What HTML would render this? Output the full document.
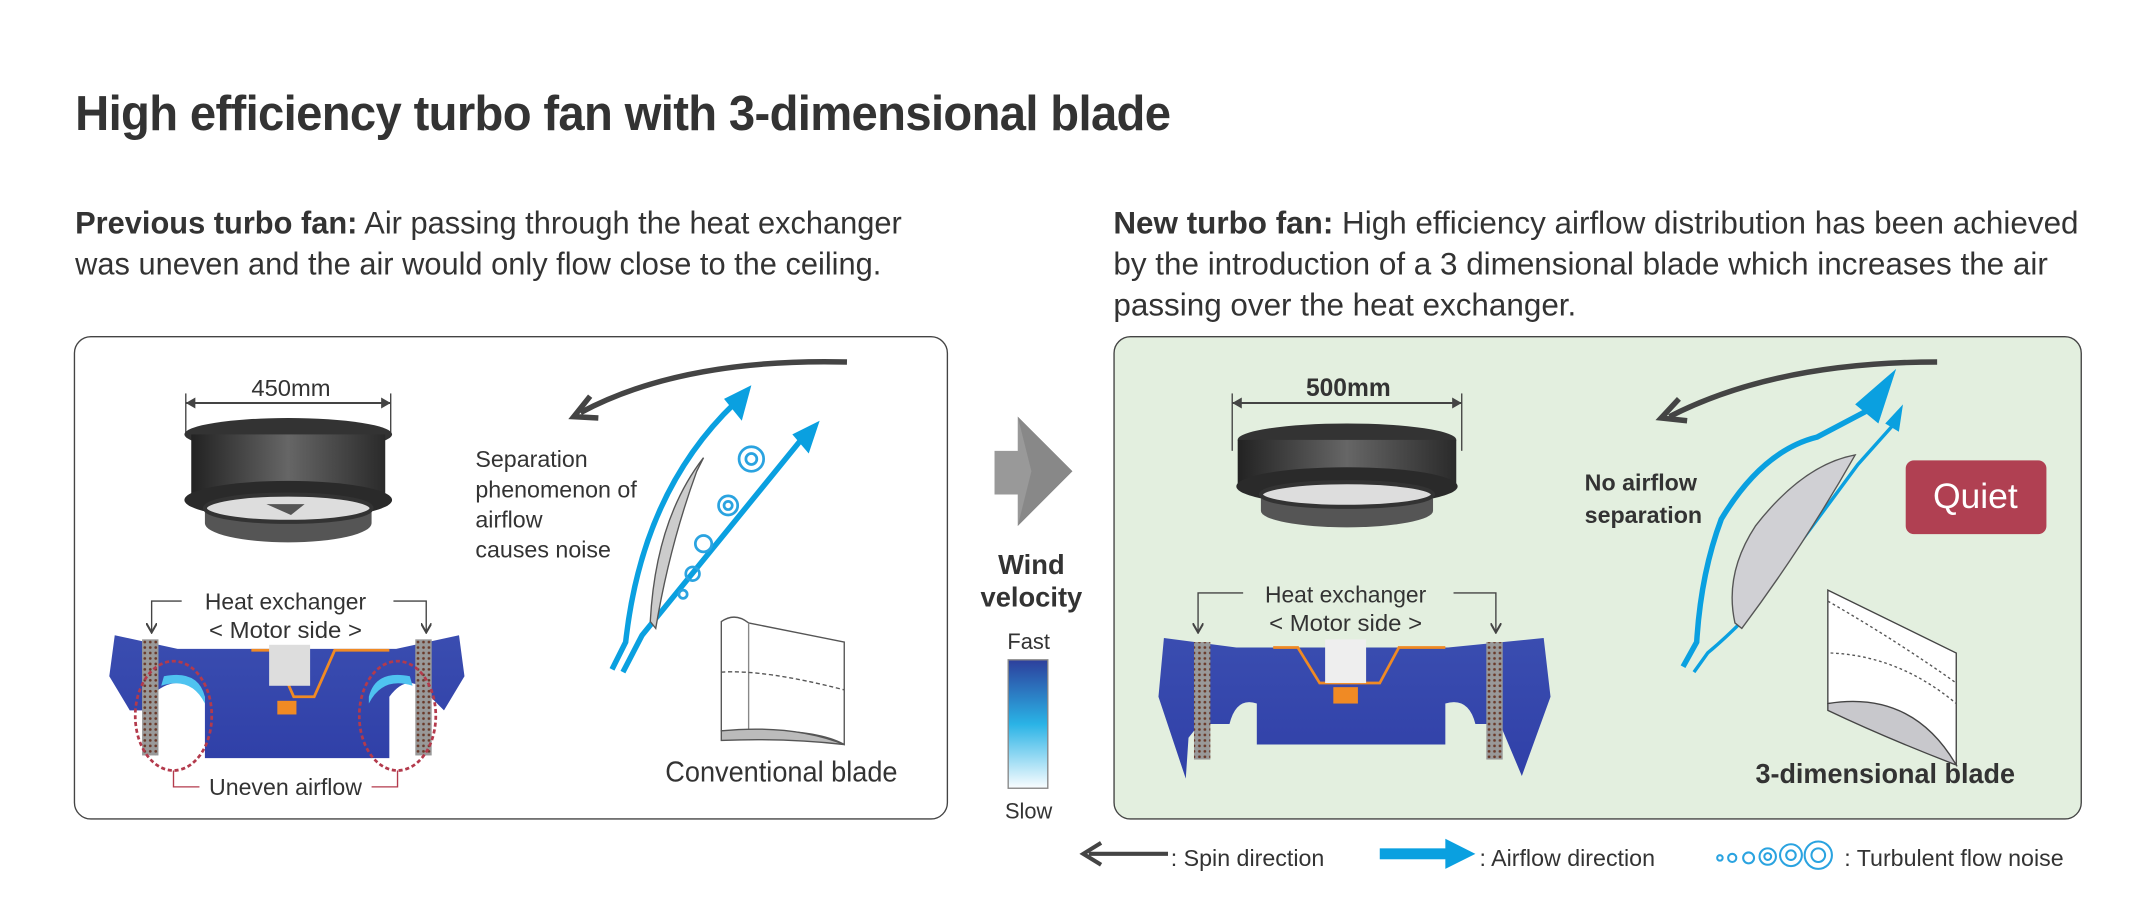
<!DOCTYPE html>
<html><head><meta charset="utf-8"><style>
html,body{margin:0;padding:0;background:#fff;}
#w{width:2142px;height:906px;overflow:hidden;position:relative;}
#s{position:absolute;left:0;top:0;width:1568px;height:663px;transform:scale(1.3661);transform-origin:0 0;font-family:"Liberation Sans",sans-serif;color:#333;}
.t{position:absolute;white-space:nowrap;transform-origin:0 0;}
</style></head><body><div id="w"><div id="s">
<div class="t" style="left:55px;top:62px;font-size:36px;font-weight:bold;color:#333;letter-spacing:-0.5px;transform:scaleX(0.96)">High efficiency turbo fan with 3-dimensional blade</div>
<div class="t" style="left:55px;top:148px;font-size:23px;line-height:30px;color:#333;transform:scaleX(0.98)">
<b>Previous turbo fan:</b> Air passing through the heat exchanger<br>was uneven and the air would only flow close to the ceiling.</div>
<div class="t" style="left:815px;top:148px;font-size:23px;line-height:30px;color:#333">
<b>New turbo fan:</b> High efficiency airflow distribution has been achieved<br>by the introduction of a 3 dimensional blade which increases the air<br>passing over the heat exchanger.</div>

<svg width="1568" height="663" style="position:absolute;left:0;top:0" font-family="Liberation Sans, sans-serif">
<defs>
<linearGradient id="vel" x1="0" y1="0" x2="0" y2="1"><stop offset="0" stop-color="#2d3f9c"/><stop offset="0.5" stop-color="#2ab3e6"/><stop offset="1" stop-color="#fafdff"/></linearGradient>
<linearGradient id="fan" x1="0" y1="0" x2="1" y2="0"><stop offset="0" stop-color="#222"/><stop offset="0.5" stop-color="#666"/><stop offset="1" stop-color="#2a2a2a"/></linearGradient>
<linearGradient id="hx" x1="0" y1="0" x2="0" y2="1"><stop offset="0" stop-color="#3a4db0"/><stop offset="1" stop-color="#3040a8"/></linearGradient>
<pattern id="dots" width="4" height="4" patternUnits="userSpaceOnUse"><rect width="4" height="4" fill="#999"/><circle cx="2" cy="2" r="1" fill="#6a3a2a"/></pattern>
<marker id="ah" markerWidth="8" markerHeight="8" refX="6" refY="4" orient="auto"><path d="M0,0 L7,4 L0,8" fill="none" stroke="#444" stroke-width="1.5"/></marker>
</defs>
<rect x="54.5" y="246.5" width="639" height="353" rx="12" fill="#fff" stroke="#444"/>
<rect x="815.5" y="246.5" width="708" height="353" rx="12" fill="#e3efdf" stroke="#444"/>

<!-- LEFT fan -->
<line x1="136" y1="295" x2="286" y2="295" stroke="#444" stroke-width="1.5"/>
<line x1="136" y1="288" x2="136" y2="318" stroke="#444"/><line x1="286" y1="288" x2="286" y2="318" stroke="#444"/>
<path d="M136,295 l7,-4 v8z M286,295 l-7,-4 v8z" fill="#444"/>
<text x="213" y="290" font-size="17" text-anchor="middle" fill="#333" textLength="58" lengthAdjust="spacingAndGlyphs">450mm</text>
<ellipse cx="211" cy="318" rx="76" ry="12" fill="#333"/>
<rect x="140" y="318" width="142" height="48" fill="url(#fan)"/>
<ellipse cx="211" cy="366" rx="76" ry="14" fill="#2a2a2a"/>
<path d="M150,370 L150,383 A61,14 0 0 0 272,383 L272,370 Z" fill="#555"/>
<ellipse cx="211" cy="372" rx="61" ry="10" fill="#ddd" stroke="#333" stroke-width="3"/>
<path d="M195,369 l18,8 l10,-8z" fill="#555"/>

<!-- LEFT heat exchanger -->
<text x="209" y="446" font-size="17" text-anchor="middle" fill="#333" textLength="118" lengthAdjust="spacingAndGlyphs">Heat exchanger</text>
<text x="209" y="467" font-size="17" text-anchor="middle" fill="#333" textLength="112" lengthAdjust="spacingAndGlyphs">&lt; Motor side &gt;</text>
<path d="M133,440 H111 V462" fill="none" stroke="#444" marker-end="url(#ah)"/>
<path d="M288,440 H312 V462" fill="none" stroke="#444" marker-end="url(#ah)"/>
<path d="M84,465 L80,495 L95,520 L110,520 L110,510 Q130,490 150,510 L150,555 L285,555 L285,510 Q300,490 315,510 L325,520 L340,495 L336,465 L290,475 L130,475 Z" fill="url(#hx)"/>
<path d="M150,510 Q145,490 120,495 L118,502 Q140,495 150,515Z M270,510 Q275,490 300,495 L302,502 Q280,495 270,515Z" fill="#4fc3f0"/>
<path d="M184,476 H200 L215,510 H230 L245,476 H285" fill="none" stroke="#f08a24" stroke-width="2"/>
<rect x="197" y="472" width="30" height="30" fill="#ddd"/>
<rect x="203" y="513" width="14" height="10" fill="#f08a24"/>
<rect x="104" y="468" width="12" height="85" fill="url(#dots)"/>
<rect x="304" y="468" width="12" height="85" fill="url(#dots)"/>
<ellipse cx="127" cy="524" rx="28" ry="40" fill="none" stroke="#b33a4c" stroke-width="2" stroke-dasharray="3,2"/>
<ellipse cx="291" cy="524" rx="28" ry="40" fill="none" stroke="#b33a4c" stroke-width="2" stroke-dasharray="3,2"/>
<path d="M127,564 V576 H146 M291,564 V576 H272" fill="none" stroke="#b33a4c"/>
<text x="209" y="582" font-size="17" text-anchor="middle" fill="#333" textLength="112" lengthAdjust="spacingAndGlyphs">Uneven airflow</text>

<!-- LEFT text + blade -->
<text font-size="17" fill="#333"><tspan x="348" y="342">Separation</tspan><tspan x="348" y="364">phenomenon of</tspan><tspan x="348" y="386">airflow</tspan><tspan x="348" y="408">causes noise</tspan></text>
<path d="M620,265 Q500,262 425,302" fill="none" stroke="#444" stroke-width="4"/>
<path d="M432,290 L420,305 L438,306" fill="none" stroke="#444" stroke-width="4"/>
<path d="M448,490 L458,470 Q470,360 538,295" fill="none" stroke="#0aa0e0" stroke-width="4"/>
<path d="M530,292 L550,282 L543,308z" fill="#0aa0e0"/>
<path d="M456,492 L470,465 L588,320" fill="none" stroke="#0aa0e0" stroke-width="4"/>
<path d="M580,318 L600,308 L592,332z" fill="#0aa0e0"/>
<path d="M476,455 Q480,380 515,335 L510,345 Q490,400 480,460Z" fill="#ccc" stroke="#555"/>
<g fill="none" stroke="#2aa3e0" stroke-width="2">
<circle cx="550" cy="336" r="9"/><circle cx="550" cy="336" r="4"/>
<circle cx="533" cy="370" r="7"/><circle cx="533" cy="370" r="3"/>
<circle cx="515" cy="398" r="6"/><circle cx="507" cy="420" r="5"/><circle cx="500" cy="435" r="3"/></g>
<path d="M528,455 Q538,448 548,456 L618,470 L618,545 Q600,535 560,535 L528,535 Z" fill="#fff" stroke="#555"/>
<line x1="548" y1="456" x2="548" y2="535" stroke="#888"/>
<path d="M528,535 Q580,530 618,545 Q575,540 528,542Z" fill="#bbb" stroke="#555"/>
<path d="M528,492 Q560,490 618,505" fill="none" stroke="#555" stroke-dasharray="3,2"/>
<text x="572" y="572" font-size="21" text-anchor="middle" fill="#333" textLength="170" lengthAdjust="spacingAndGlyphs">Conventional blade</text>

<!-- Chevron -->
<path d="M745,305 L785,345 L745,385 L745,362 L728,362 L728,330 L745,330Z" fill="#999"/>
<path d="M745,305 L785,345 L745,385 L755,345Z" fill="#888"/>
<text x="755" y="420" font-size="20" font-weight="bold" text-anchor="middle" fill="#333">Wind</text>
<text x="755" y="444" font-size="20" font-weight="bold" text-anchor="middle" fill="#333">velocity</text>
<text x="753" y="475" font-size="16" text-anchor="middle" fill="#333">Fast</text>
<rect x="738" y="483" width="29" height="94" fill="url(#vel)" stroke="#888"/>
<text x="753" y="599" font-size="16" text-anchor="middle" fill="#333">Slow</text>

<!-- RIGHT fan -->
<line x1="902" y1="295" x2="1070" y2="295" stroke="#444" stroke-width="1.5"/>
<line x1="902" y1="288" x2="902" y2="330" stroke="#444"/><line x1="1070" y1="288" x2="1070" y2="330" stroke="#444"/>
<path d="M902,295 l7,-4 v8z M1070,295 l-7,-4 v8z" fill="#444"/>
<text x="987" y="290" font-size="18" font-weight="bold" text-anchor="middle" fill="#333">500mm</text>
<ellipse cx="986" cy="322" rx="80" ry="12" fill="#333"/>
<rect x="906" y="322" width="160" height="34" fill="url(#fan)"/>
<ellipse cx="986" cy="356" rx="81" ry="14" fill="#2a2a2a"/>
<path d="M923,360 L923,374 A63,12 0 0 0 1049,374 L1049,360 Z" fill="#555"/>
<ellipse cx="986" cy="362" rx="63" ry="9" fill="#ddd" stroke="#333" stroke-width="3"/>

<!-- RIGHT heat exchanger -->
<text x="985" y="441" font-size="17" text-anchor="middle" fill="#333" textLength="118" lengthAdjust="spacingAndGlyphs">Heat exchanger</text>
<text x="985" y="462" font-size="17" text-anchor="middle" fill="#333" textLength="112" lengthAdjust="spacingAndGlyphs">&lt; Motor side &gt;</text>
<path d="M910,434 H877 V462" fill="none" stroke="#444" marker-end="url(#ah)"/>
<path d="M1064,434 H1095 V462" fill="none" stroke="#444" marker-end="url(#ah)"/>
<path d="M852,467 L848,510 L868,570 L870,540 L878,530 L900,530 Q905,510 920,515 L920,545 L1058,545 L1058,515 Q1075,510 1080,530 L1098,530 L1114,568 L1135,510 L1130,467 L1060,474 L905,474 Z" fill="url(#hx)"/>
<path d="M932,474 H950 L966,500 H1010 L1024,474 H1058" fill="none" stroke="#f08a24" stroke-width="2"/>
<rect x="970" y="468" width="30" height="32" fill="#eee"/>
<rect x="976" y="503" width="18" height="12" fill="#f08a24"/>
<rect x="874" y="470" width="12" height="86" fill="url(#dots)"/>
<rect x="1088" y="470" width="12" height="86" fill="url(#dots)"/>

<!-- RIGHT text + blade -->
<text font-size="17" font-weight="bold" fill="#333"><tspan x="1160" y="359">No airflow</tspan><tspan x="1160" y="383">separation</tspan></text>
<path d="M1418,265 Q1300,265 1222,305" fill="none" stroke="#444" stroke-width="4"/>
<path d="M1229,292 L1216,306 L1235,308" fill="none" stroke="#444" stroke-width="4"/>
<path d="M1232,488 L1242,470 Q1245,420 1260,380 Q1290,330 1330,320 L1368,300" fill="none" stroke="#0aa0e0" stroke-width="4"/>
<path d="M1358,296 L1388,270 L1375,310z" fill="#0aa0e0"/>
<path d="M1240,492 L1250,478 Q1262,468 1275,455 L1360,340 L1385,312" fill="none" stroke="#0aa0e0" stroke-width="2.5"/>
<path d="M1380,310 L1393,296 L1390,316z" fill="#0aa0e0"/>
<path d="M1270,456 Q1262,420 1285,385 Q1320,340 1358,333 Q1320,400 1275,460Z" fill="#d0d0d4" stroke="#555"/>
<path d="M1338,432 L1432,478 L1432,560 Q1395,510 1338,515 Z" fill="#fff" stroke="#444"/>
<path d="M1338,515 Q1400,505 1432,560 Q1380,540 1338,520Z" fill="#c8c8cc" stroke="#444"/>
<path d="M1338,440 Q1390,470 1432,500 M1340,478 Q1390,480 1432,515" fill="none" stroke="#555" stroke-dasharray="2,2"/>
<text x="1380" y="573" font-size="20" font-weight="bold" text-anchor="middle" fill="#333" textLength="190" lengthAdjust="spacingAndGlyphs">3-dimensional blade</text>
<rect x="1395" y="337" width="103" height="54" rx="6" fill="#b04052"/>
<text x="1446" y="372" font-size="26" text-anchor="middle" fill="#fff">Quiet</text>

<!-- Legend -->
<line x1="797" y1="625" x2="855" y2="625" stroke="#444" stroke-width="3"/>
<path d="M806,617 L793,625 L806,633" fill="none" stroke="#444" stroke-width="3"/>
<text x="857" y="634" font-size="17" fill="#333">: Spin direction</text>
<rect x="1010" y="621" width="52" height="8" fill="#0aa0e0"/>
<path d="M1058,614 L1080,625 L1058,636z" fill="#0aa0e0"/>
<text x="1083" y="634" font-size="17" fill="#333">: Airflow direction</text>
<g fill="none" stroke="#2aa3e0" stroke-width="1.5">
<circle cx="1259" cy="628" r="2"/><circle cx="1268" cy="628" r="3"/><circle cx="1280" cy="628" r="4"/><circle cx="1294" cy="627" r="6"/><circle cx="1294" cy="627" r="2.5"/><circle cx="1311" cy="626" r="8"/><circle cx="1311" cy="626" r="3.5"/><circle cx="1331" cy="626" r="10"/><circle cx="1331" cy="626" r="5"/></g>
<text x="1350" y="634" font-size="17" fill="#333">: Turbulent flow noise</text>
</svg>
</div></div></body></html>
